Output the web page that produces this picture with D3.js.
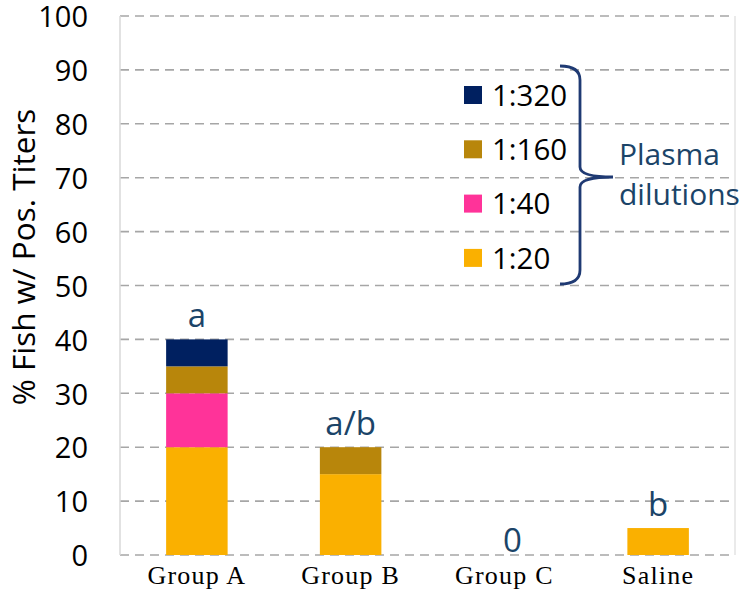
<!DOCTYPE html>
<html><head><meta charset="utf-8">
<script src="https://cdn.jsdelivr.net/npm/d3@7"></script>
<style>body{margin:0;background:#fff}</style>
</head><body>
<svg id="c" width="746" height="596"></svg>
<script>
const categories = ["Group A", "Group B", "Group C", "Saline"];
const seriesNames = ["1:20", "1:40", "1:160", "1:320"];
const v1_20  = [20, 15, 0, 5];
const v1_40  = [10, 0, 0, 0];
const v1_160 = [5, 5, 0, 0];
const v1_320 = [5, 0, 0, 0];
const sigLabels = ["a", "a/b", "0", "b"];
const yTicks = [0,10,20,30,40,50,60,70,80,90,100];
const colors = {"1:20":"#FAB000","1:40":"#FF3399","1:160":"#B8860B","1:320":"#002060"};

const rows = categories.map((c,i)=>({cat:c,"1:20":v1_20[i],"1:40":v1_40[i],"1:160":v1_160[i],"1:320":v1_320[i]}));
const svg = d3.select("#c");
const L=120, R=735, T=16, B=555;
const x = d3.scaleBand().domain(categories).range([L,R]).paddingInner(0.6).paddingOuter(0.3);
const y = d3.scaleLinear().domain([0,100]).range([B,T]);

// gridlines
svg.append("g").selectAll("line").data(yTicks).join("line")
  .attr("x1",L).attr("x2",R).attr("y1",d=>y(d)).attr("y2",d=>y(d))
  .attr("stroke","#A6A6A6").attr("stroke-width",1.6).attr("stroke-dasharray","9,6");
// frame lines
svg.append("line").attr("x1",L).attr("x2",L).attr("y1",T).attr("y2",B).attr("stroke","#D9D9D9").attr("stroke-width",1.5);
svg.append("line").attr("x1",R).attr("x2",R).attr("y1",T).attr("y2",B).attr("stroke","#E3E3E3").attr("stroke-width",1.5);

// y axis
const yAxis = d3.axisLeft(y).tickValues(yTicks).tickSize(0).tickPadding(0);
const ga = svg.append("g").attr("transform",`translate(88,0)`).call(yAxis);
ga.select(".domain").remove();
ga.selectAll("text").attr("font-family","Open Sans, sans-serif").attr("font-size",29).attr("fill","#000").attr("dy","0.37em");

// x labels
const xAxis = d3.axisBottom(x).tickSize(0).tickPadding(0);
const gx = svg.append("g").attr("transform",`translate(0,${B})`).call(xAxis);
gx.select(".domain").remove();
gx.selectAll("text").attr("font-family","Liberation Serif, Times New Roman, serif").attr("font-size",26)
  .attr("letter-spacing","1.2px").attr("fill","#000").attr("dy","1.1em");

// stacked bars
const stack = d3.stack().keys(seriesNames)(rows);
svg.append("g").selectAll("g").data(stack).join("g").attr("fill",d=>colors[d.key])
  .selectAll("rect").data(d=>d).join("rect")
  .attr("x",d=>x(d.data.cat)).attr("width",x.bandwidth())
  .attr("y",d=>y(d[1])).attr("height",d=>y(d[0])-y(d[1]));

// significance labels
const sigDx = [0,0,8,0];
svg.append("g").selectAll("text").data(categories).join("text")
  .attr("x",(d,i)=>x(d)+x.bandwidth()/2+sigDx[i])
  .attr("y",(d,i)=>{const tot=v1_20[i]+v1_40[i]+v1_160[i]+v1_320[i]; return tot>0? y(tot)-12 : y(0)-3;})
  .attr("text-anchor","middle").attr("font-family","Open Sans, sans-serif").attr("font-size",33)
  .attr("fill","#1B4468").text((d,i)=>sigLabels[i]);

// legend
const legOrder = ["1:320","1:160","1:40","1:20"];
const lg = svg.append("g");
legOrder.forEach((k,i)=>{
  const cy = 95 + i*54.3;
  lg.append("rect").attr("x",464).attr("y",cy-9).attr("width",18).attr("height",18).attr("fill",colors[k]);
  lg.append("text").attr("x",492).attr("y",cy).attr("dy","0.36em").attr("font-family","Open Sans, sans-serif")
    .attr("font-size",29.5).attr("fill","#000").text(k);
});

// brace
const bTop=66, bBot=284, bMid=177;
svg.append("path")
  .attr("d",`M560,${bTop} Q580,${bTop} 580,${bTop+14} L580,${bMid-10} Q580,${bMid} 613,${bMid} Q580,${bMid} 580,${bMid+10} L580,${bBot-14} Q580,${bBot} 560,${bBot}`)
  .attr("fill","none").attr("stroke","#1F3A73").attr("stroke-width",2.8);
svg.append("text").attr("x",619).attr("y",165).attr("font-family","Open Sans, sans-serif").attr("font-size",30)
  .attr("fill","#1B4468").text("Plasma");
svg.append("text").attr("x",619).attr("y",205).attr("font-family","Open Sans, sans-serif").attr("font-size",30)
  .attr("fill","#1B4468").text("dilutions");

// y title
svg.append("text").attr("transform","translate(35,257) rotate(-90)").attr("text-anchor","middle")
  .attr("font-family","Open Sans, sans-serif").attr("font-size",31.5).attr("fill","#000").text("% Fish w/ Pos. Titers");
</script>
</body></html>
